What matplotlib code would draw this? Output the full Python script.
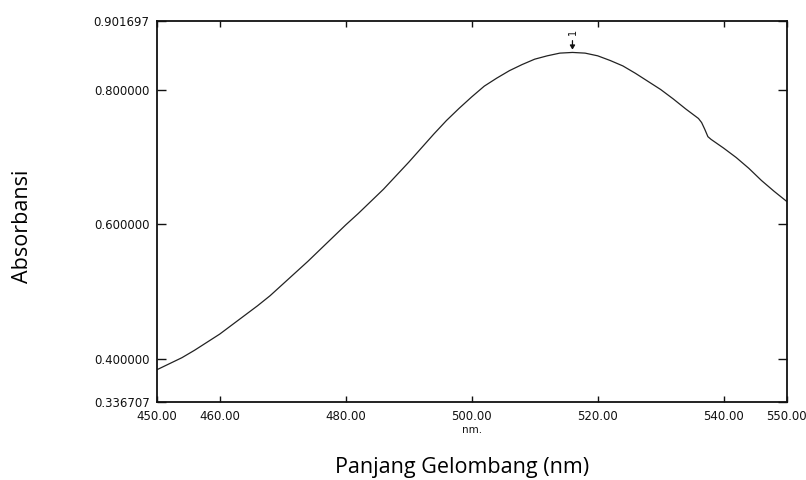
import matplotlib
matplotlib.use("Agg")
import matplotlib.pyplot as plt
import numpy as np

# Absorption spectrum
wavelength = [450, 452, 454, 456, 458, 460, 462, 464, 466, 468, 470, 472, 474,
              476, 478, 480, 482, 484, 486, 488, 490, 492, 494, 496, 498, 500,
              502, 504, 506, 508, 510, 512, 514, 516, 518, 520, 522, 524, 526,
              528, 530, 532, 534, 535, 536, 536.5, 537, 537.5, 538, 540, 542,
              544, 546, 548, 550]
absorbance = [0.384, 0.393, 0.402, 0.413, 0.425, 0.437, 0.451, 0.465, 0.479,
              0.494, 0.511, 0.528, 0.545, 0.563, 0.581, 0.599, 0.616, 0.634,
              0.652, 0.672, 0.692, 0.713, 0.734, 0.754, 0.772, 0.789, 0.805,
              0.817, 0.828, 0.837, 0.845, 0.850, 0.854, 0.855, 0.854, 0.850,
              0.843, 0.835, 0.824, 0.812, 0.800, 0.786, 0.771, 0.764, 0.757,
              0.751, 0.741, 0.730, 0.726, 0.713, 0.699, 0.683, 0.665, 0.649,
              0.634]

x_ticks = [450, 460, 480, 500, 520, 540, 550]
y_ticks = [0.336707, 0.4, 0.6, 0.8, 0.901697]
x_min, x_max = 450.0, 550.0
y_min, y_max = 0.336707, 0.901697

fig = plt.figure(figsize=(8.06, 4.8), dpi=100)
ax = fig.add_axes([0.1944, 0.1631, 0.976 - 0.1944, 0.9563 - 0.1631])

ax.plot(wavelength, absorbance, color="#222222", lw=0.9)
ax.set_xlim(x_min, x_max)
ax.set_ylim(y_min, y_max)

ax.set_xticks(x_ticks)
ax.set_xticklabels(["%.2f" % v for v in x_ticks])
ax.set_yticks(y_ticks)
ax.set_yticklabels(["%.6f" % v for v in y_ticks])

ax.tick_params(axis="x", direction="in", length=4.5, width=1, top=True,
               labelsize=8.5, pad=6, colors="#111111")
ax.tick_params(axis="y", direction="in", length=6.5, width=1, right=True,
               labelsize=8.5, pad=5, colors="#111111")
for sp in ax.spines.values():
    sp.set_linewidth(1.3)
    sp.set_color("#111111")

# peak marker
i_pk = int(np.argmax(absorbance))
ax.annotate("", xy=(wavelength[i_pk], absorbance[i_pk]), xytext=(0, 8.5),
            textcoords="offset points",
            arrowprops=dict(arrowstyle="-|>,head_length=0.25,head_width=0.15",
                            color="#111111", lw=0.9, shrinkA=0, shrinkB=2))
ax.annotate("1", xy=(wavelength[i_pk], absorbance[i_pk]), xytext=(0, 14.5),
            textcoords="offset points", rotation=90, ha="center", va="center",
            fontsize=7, color="#111111")

ax.text(0.5, -0.074, "nm.", transform=ax.transAxes, ha="center",
        va="center", fontsize=7.5, color="#111111")

fig.text(0.028, 0.528, "Absorbansi", rotation=90, ha="center", va="center",
         fontsize=15.5, family="Open Sans", color="black")
fig.text(0.573, 0.025, "Panjang Gelombang (nm)", ha="center", va="center",
         fontsize=15.5, family="Open Sans", color="black")

fig.savefig("out.png", dpi=100)
